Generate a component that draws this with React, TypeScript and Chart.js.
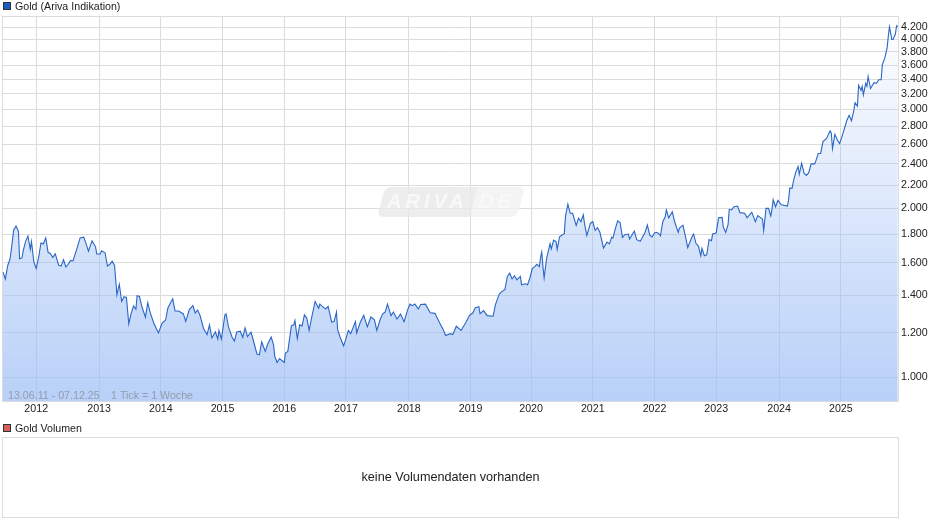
import { useEffect, useRef } from "react";
import { Chart, registerables } from "chart.js";

Chart.register(...registerables);

// week number counted from 13.06.11
const weekNumbers = [
  0, 2, 4, 6, 7, 9, 11, 13, 14, 16,
  17, 19, 21, 23, 24, 26, 28, 30, 32, 34,
  36, 38, 40, 42, 44, 47, 49, 51, 53, 55,
  57, 59, 62, 65, 68, 70, 72, 75, 78, 79,
  82, 83, 86, 88, 90, 92, 94, 96, 98, 100,
  102, 104, 106, 108, 110, 112, 113, 115, 117, 120,
  122, 124, 127, 131, 134, 137, 139, 143, 145, 148,
  152, 154, 157, 160, 162, 164, 166, 169, 172, 174,
  176, 179, 181, 182, 184, 187, 188, 190, 193, 195,
  197, 200, 202, 204, 206, 209, 211, 214, 216, 218,
  221, 223, 226, 228, 229, 231, 233, 237, 238, 240,
  243, 245, 246, 248, 250, 252, 254, 256, 258, 260,
  263, 266, 267, 269, 272, 274, 277, 279, 281, 282,
  284, 287, 289, 291, 293, 297, 298, 301, 304, 307,
  310, 313, 315, 318, 320, 322, 324, 327, 329, 332,
  335, 338, 341, 343, 345, 347, 350, 352, 356, 360,
  364, 368, 371, 373, 377, 379, 382, 386, 390, 393,
  396, 398, 401, 402, 405, 408, 413, 415, 418, 420,
  423, 425, 427, 429, 431, 433, 436, 437, 440, 442,
  444, 446, 448, 450, 452, 453, 454, 455, 456, 458,
  461, 462, 464, 466, 467, 469, 473, 474, 476, 478,
  480, 483, 485, 487, 489, 490, 492, 495, 497, 499,
  501, 503, 506, 509, 511, 513, 514, 516, 518, 520,
  522, 524, 527, 528, 532, 534, 537, 539, 541, 543,
  545, 547, 549, 551, 553, 554, 556, 558, 559, 561,
  564, 566, 569, 570, 573, 575, 577, 581, 582, 584,
  586, 588, 589, 591, 593, 595, 597, 598, 601, 603,
  606, 607, 609, 611, 612, 614, 616, 619, 621, 625,
  627, 631, 634, 636, 640, 641, 643, 645, 647, 648,
  649, 651, 653, 656, 661, 662, 663, 665, 666, 668,
  670, 671, 673, 675, 677, 679, 681, 684, 685, 687,
  689, 691, 694, 697, 698, 699, 701, 703, 705, 707,
  711, 713, 715, 717, 718, 720, 721, 723, 724, 725,
  727, 728, 729, 731, 734, 736, 738, 740, 741, 743,
  745, 746, 747, 749, 750, 752, 753, 754,
];

const goldClose = [
  1540, 1497, 1582, 1627, 1687, 1830, 1860, 1820, 1627, 1632,
  1680, 1745, 1785, 1690, 1745, 1605, 1563, 1635, 1735, 1728,
  1772, 1670, 1660, 1635, 1660, 1583, 1578, 1620, 1573, 1590,
  1615, 1612, 1688, 1772, 1777, 1730, 1678, 1750, 1708, 1658,
  1658, 1680, 1667, 1578, 1590, 1610, 1583, 1403, 1465, 1365,
  1392, 1388, 1245, 1300, 1340, 1322, 1397, 1393, 1337, 1280,
  1358, 1305, 1250, 1200, 1248, 1265, 1330, 1380, 1313, 1313,
  1297, 1258, 1320, 1342, 1302, 1318, 1290, 1222, 1192, 1240,
  1175, 1205, 1170, 1212, 1170, 1292, 1297, 1230, 1180, 1160,
  1204, 1208, 1178, 1225, 1182, 1204, 1163, 1100, 1097, 1157,
  1112, 1145, 1180, 1142, 1090, 1063, 1080, 1063, 1105, 1112,
  1235, 1240, 1262, 1172, 1240, 1235, 1292, 1275, 1212, 1275,
  1365, 1328, 1351, 1338, 1324, 1338, 1254, 1257, 1307, 1216,
  1180, 1138, 1172, 1212, 1196, 1257, 1200, 1252, 1290, 1230,
  1281, 1266, 1212, 1270, 1298, 1307, 1350, 1288, 1307, 1270,
  1296, 1256, 1320, 1350, 1342, 1351, 1324, 1348, 1350, 1303,
  1300, 1250, 1216, 1187, 1196, 1192, 1233, 1212, 1252, 1288,
  1303, 1330, 1336, 1298, 1315, 1288, 1285, 1348, 1405, 1420,
  1434, 1513, 1533, 1497, 1517, 1492, 1513, 1462, 1468, 1462,
  1503, 1562, 1575, 1590, 1575, 1635, 1672, 1575, 1503, 1626,
  1730, 1693, 1755, 1745, 1690, 1780, 1805, 1935, 2035, 1960,
  1960, 1865, 1920, 1893, 1947, 1880, 1790, 1880, 1893, 1827,
  1848, 1813, 1700, 1741, 1729, 1777, 1770, 1840, 1900, 1887,
  1775, 1795, 1800, 1763, 1822, 1759, 1747, 1778, 1812, 1868,
  1792, 1778, 1808, 1813, 1800, 1787, 1893, 1932, 1987, 1924,
  1972, 1893, 1812, 1845, 1867, 1787, 1703, 1787, 1800, 1731,
  1713, 1647, 1697, 1647, 1653, 1760, 1752, 1800, 1808, 1924,
  1927, 1853, 1812, 1870, 1992, 1987, 2013, 2019, 1965, 1960,
  1924, 1968, 1893, 1941, 1915, 1827, 2000, 2000, 1939, 1992,
  2072, 2013, 2066, 2029, 2019, 2072, 2173, 2173, 2233, 2318,
  2375, 2300, 2406, 2310, 2290, 2315, 2400, 2400, 2430, 2505,
  2505, 2630, 2665, 2750, 2723, 2555, 2710, 2650, 2610, 2685,
  2865, 2930, 2865, 2990, 3085, 3042, 3315, 3245, 3300, 3185,
  3340, 3300, 3435, 3270, 3350, 3340, 3390, 3390, 3605, 3700,
  3860, 4045, 4210, 4000, 4000, 4090, 4230, 4215,
];

const yearTickWeeks = [28, 81, 133, 185, 237, 289, 342, 394, 445, 497, 549, 601, 654, 706];
const yearLabels = ["2012", "2013", "2014", "2015", "2016", "2017", "2018", "2019", "2020", "2021", "2022", "2023", "2024", "2025"];

const priceTicks = [1000, 1200, 1400, 1600, 1800, 2000, 2200, 2400, 2600, 2800, 3000, 3200, 3400, 3600, 3800, 4000, 4200];
const priceTickLabels = ["1.000", "1.200", "1.400", "1.600", "1.800", "2.000", "2.200", "2.400", "2.600", "2.800", "3.000", "3.200", "3.400", "3.600", "3.800", "4.000", "4.200"];

const FONT = "Liberation Sans, Arial, sans-serif";
const GRID = "#dcdcdc";

// legend square + text in the strip above a panel
const panelLegend = (text: string, fill: string, y: number) => ({
  id: "panelLegend",
  afterDraw(chart: Chart) {
    const c = chart.ctx;
    c.save();
    c.fillStyle = fill;
    c.strokeStyle = "#333";
    c.lineWidth = 1;
    c.fillRect(3, y, 8, 8);
    c.strokeRect(3.5, y + 0.5, 7, 7);
    c.fillStyle = "#222";
    c.font = `10.67px ${FONT}`;
    c.textBaseline = "alphabetic";
    c.fillText(text, 15, y + 8);
    c.restore();
  },
});

const frame = {
  id: "frame",
  beforeDatasetsDraw(chart: Chart) {
    const { left, top, width, height } = chart.chartArea;
    const c = chart.ctx;
    c.save();
    c.strokeStyle = GRID;
    c.lineWidth = 1;
    c.strokeRect(Math.round(left) - 0.5, Math.round(top) - 0.5, Math.round(width) + 1, Math.round(height) + 1);
    c.restore();
  },
};

const watermark = {
  id: "watermark",
  beforeDatasetsDraw(chart: Chart) {
    const c = chart.ctx;
    c.save();
    // slanted badge, skewed around its bottom edge
    c.save();
    c.transform(1, 0, -0.27, 1, 0.27 * 217, 0);
    c.fillStyle = "rgba(232,232,232,0.8)";
    c.beginPath();
    c.roundRect(377, 187, 93, 30, [6, 0, 0, 6]);
    c.fill();
    c.fillStyle = "rgba(241,241,241,0.8)";
    c.beginPath();
    c.roundRect(470, 187, 47, 30, [0, 6, 6, 0]);
    c.fill();
    c.restore();
    c.fillStyle = "rgba(250,250,250,0.9)";
    c.font = `italic bold 20px ${FONT}`;
    (c as any).letterSpacing = "4px";
    c.textBaseline = "alphabetic";
    c.fillText("ARIVA", 387, 208);
    c.fillText("DE", 479, 208);
    c.restore();
  },
};

const rangeNote = {
  id: "rangeNote",
  afterDatasetsDraw(chart: Chart) {
    const c = chart.ctx;
    c.save();
    c.fillStyle = "rgba(120,120,120,0.6)";
    c.font = `10.67px ${FONT}`;
    c.fillText("13.06.11 - 07.12.25", 8, 399);
    c.fillText("1 Tick = 1 Woche", 111, 399);
    c.restore();
  },
};

const noVolume = {
  id: "noVolume",
  afterDraw(chart: Chart) {
    const { left, top, width, height } = chart.chartArea;
    const c = chart.ctx;
    c.save();
    c.fillStyle = "#222";
    c.font = `12.67px ${FONT}`;
    c.textAlign = "center";
    c.textBaseline = "middle";
    c.fillText("keine Volumendaten vorhanden", left + width / 2, top + height / 2);
    c.restore();
  },
};

export default function App() {
  const priceRef = useRef<HTMLCanvasElement>(null);
  const volumeRef = useRef<HTMLCanvasElement>(null);

  useEffect(() => {
    if (!priceRef.current || !volumeRef.current) return;

    const priceChart = new Chart(priceRef.current, {
      type: "line",
      data: {
        datasets: [
          {
            label: "Gold (Ariva Indikation)",
            data: weekNumbers.map((week, i) => ({ x: week, y: goldClose[i] })),
            borderColor: "#2a66c6",
            borderWidth: 1.1,
            pointRadius: 0,
            tension: 0,
            fill: "start",
            backgroundColor: (ctx: any) => {
              const area = ctx.chart.chartArea;
              if (!area) return "transparent";
              const g = ctx.chart.ctx.createLinearGradient(0, area.top, 0, area.bottom);
              g.addColorStop(0, "rgba(154,188,245,0)");
              g.addColorStop(1, "rgba(154,188,245,0.7)");
              return g;
            },
          },
        ],
      },
      options: {
        responsive: false,
        animation: false,
        layout: { padding: { left: 3, top: 17, right: 0, bottom: 0 } },
        plugins: { legend: { display: false }, tooltip: { enabled: false } },
        scales: {
          x: {
            type: "linear",
            min: 0,
            max: 754.2,
            afterFit: (s: any) => {
              s.height = 24;
            },
            afterBuildTicks: (s: any) => {
              s.ticks = yearTickWeeks.map((value) => ({ value }));
            },
            grid: { color: GRID, drawTicks: false },
            border: { display: false },
            ticks: {
              autoSkip: false,
              maxRotation: 0,
              padding: 2,
              color: "#222",
              font: { family: FONT, size: 10.67 },
              callback: (v: any) => yearLabels[yearTickWeeks.indexOf(v)],
            },
          },
          y: {
            type: "logarithmic",
            position: "right",
            min: 907.4,
            max: 4385,
            afterFit: (s: any) => {
              s.width = 42;
            },
            afterBuildTicks: (s: any) => {
              s.ticks = priceTicks.map((value) => ({ value }));
            },
            grid: { color: GRID, drawTicks: false },
            border: { display: false },
            ticks: {
              autoSkip: false,
              padding: 3,
              color: "#222",
              font: { family: FONT, size: 10.67 },
              callback: (v: any) => priceTickLabels[priceTicks.indexOf(v)],
            },
          },
        },
      },
      plugins: [frame, watermark, rangeNote, panelLegend("Gold (Ariva Indikation)", "#1a5cc0", 2)],
    });

    const volumeChart = new Chart(volumeRef.current, {
      type: "bar",
      data: { labels: [], datasets: [{ label: "Gold Volumen", data: [] }] },
      options: {
        responsive: false,
        animation: false,
        layout: { padding: { left: 3, top: 14, right: 42, bottom: 9 } },
        plugins: { legend: { display: false }, tooltip: { enabled: false } },
        scales: { x: { display: false }, y: { display: false } },
      },
      plugins: [frame, noVolume, panelLegend("Gold Volumen", "#d9605a", 0)],
    });

    return () => {
      priceChart.destroy();
      volumeChart.destroy();
    };
  }, []);

  return (
    <div style={{ position: "absolute", left: 0, top: 0, width: 940, height: 526, background: "#fff" }}>
      <canvas ref={priceRef} width={940} height={425} style={{ position: "absolute", left: 0, top: 0 }} />
      <canvas ref={volumeRef} width={940} height={102} style={{ position: "absolute", left: 0, top: 424 }} />
    </div>
  );
}
